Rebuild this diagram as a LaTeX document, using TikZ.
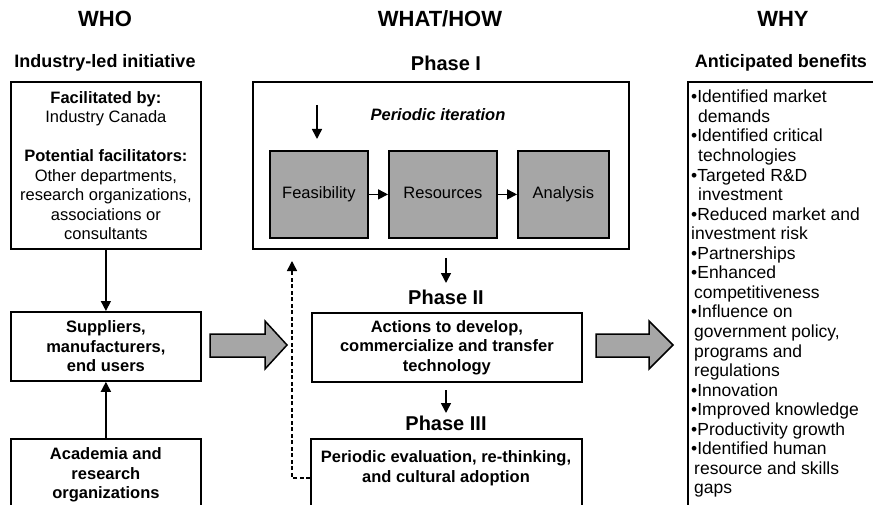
\documentclass[tikz,border=0pt]{standalone}
\usepackage{fontspec}
\setmainfont{Liberation Sans}
\usetikzlibrary{arrows.meta}
\definecolor{boxgray}{RGB}{166,166,166}
\begin{document}
\begin{tikzpicture}[x=1pt,y=-1pt,
  box/.style={draw, line width=1.8pt, inner sep=0pt, anchor=north west},
  graybox/.style={box, fill=boxgray, text height=12pt, text depth=3.5pt},
  conn/.style={line width=1.5pt, -{Triangle[width=10pt,length=10pt]}},
  fbconn/.style={line width=1.5pt, dash pattern=on 4pt off 2.5pt, -{Triangle[width=10pt,length=10pt]}},
  hdr/.style={font=\fontsize{22}{26}\selectfont\bfseries, anchor=base},
  sub/.style={font=\fontsize{18}{22}\selectfont\bfseries, anchor=base},
  phase/.style={font=\fontsize{20}{24}\selectfont\bfseries, anchor=base},
  body/.style={font=\fontsize{16.5}{19.5}\selectfont, align=center},
  bodyb/.style={font=\fontsize{16.5}{19.5}\selectfont\bfseries, align=center},
  bigarrow/.style={draw, line width=1.5pt, fill=boxgray, line join=miter},
]
\clip (0,0) rectangle (873,505);
\fill[white] (0,0) rectangle (873,505);

% headers
\node[hdr] (who) at (105,27) {WHO};
\node[hdr] (what) at (440,27) {WHAT/HOW};
\node[hdr] (why) at (783,27) {WHY};
\node[sub] (ili) at (105,68) {Industry-led initiative};
\node[sub] (ab) at (781,68) {Anticipated benefits};
\node[phase] (ph1) at (446,71) {Phase I};
\node[phase] (ph2) at (446,304) {Phase II};
\node[phase] (ph3) at (446,430) {Phase III};

% WHO column
\node[box, body, minimum width=190pt, minimum height=167pt] (fac) at (10,81)
  {\textbf{Facilitated by:}\\Industry Canada\\[19.5pt]\textbf{Potential facilitators:}\\Other departments,\\research organizations,\\associations or\\consultants};
\node[box, bodyb, minimum width=190pt, minimum height=69pt] (sup) at (10,311)
  {Suppliers,\\manufacturers,\\end users};
\node[box, bodyb, minimum width=190pt, minimum height=72pt] (acad) at (10,438)
  {Academia and\\research\\organizations};
\draw[conn] (fac.south) -- (sup.north);
\draw[conn] (acad.north) -- (sup.south);

% big arrows
\draw[bigarrow] (210,334) -- (265,334) -- (265,321) -- (287,345) -- (265,369) -- (265,357) -- (210,357) -- cycle;
\draw[bigarrow] (596,334) -- (649,334) -- (649,321) -- (673,345) -- (649,369) -- (649,357) -- (596,357) -- cycle;

% Phase I
\node[box, minimum width=376pt, minimum height=167pt] (p1) at (252,81) {};
\node[font=\fontsize{16.5}{19.5}\selectfont\bfseries\itshape] (iter) at (438,115) {Periodic iteration};
\node[graybox, body, minimum width=98pt, minimum height=87pt] (feas) at (269,150) {Feasibility};
\node[graybox, body, minimum width=108pt, minimum height=87pt] (res) at (388,150) {Resources};
\node[graybox, body, minimum width=91pt, minimum height=87pt] (ana) at (517,150) {Analysis};
\coordinate (its) at (317,105);
\coordinate (ite) at (317,139);
\draw[conn] (its) -- (ite);
\draw[conn] (feas) -- (res);
\draw[conn] (res) -- (ana);

% Phase II
\coordinate (d1s) at (446,258);
\coordinate (d1e) at (446,283);
\draw[conn] (d1s) -- (d1e);
\node[box, bodyb, minimum width=270pt, minimum height=69pt] (p2) at (311,312)
  {Actions to develop,\\commercialize and transfer\\technology};

% Phase III
\coordinate (d2s) at (446,390);
\coordinate (d2e) at (446,413);
\draw[conn] (d2s) -- (d2e);
\node[box, minimum width=271pt, minimum height=90pt] (p3) at (310,438) {};
\node[bodyb] (p3t) at (446,468) {Periodic evaluation, re-thinking,\\and cultural adoption};
\coordinate (fbs) at (310,478);
\coordinate (fbt) at (292,261);
\draw[fbconn] (fbs) -- (fbt |- fbs) -- (fbt);

% WHY column
\node[box, minimum width=200pt, minimum height=440pt] (ben) at (687,81) {};
\node[anchor=north west, inner sep=0pt, align=left, font=\fontsize{17.5}{19.55}\selectfont] (bentext) at (691,90)
  {•Identified market\\
   \hspace*{7pt}demands\\
   •Identified critical\\
   \hspace*{7pt}technologies\\
   •Targeted R\&D\\
   \hspace*{7pt}investment\\
   •Reduced market and\\
   investment risk\\
   •Partnerships\\
   •Enhanced\\
   \hspace*{3pt}competitiveness\\
   •Influence on\\
   \hspace*{3pt}government policy,\\
   \hspace*{3pt}programs and\\
   \hspace*{3pt}regulations\\
   •Innovation\\
   •Improved knowledge\\
   •Productivity growth\\
   •Identified human\\
   \hspace*{3pt}resource and skills\\
   \hspace*{3pt}gaps};
\end{tikzpicture}
\end{document}
